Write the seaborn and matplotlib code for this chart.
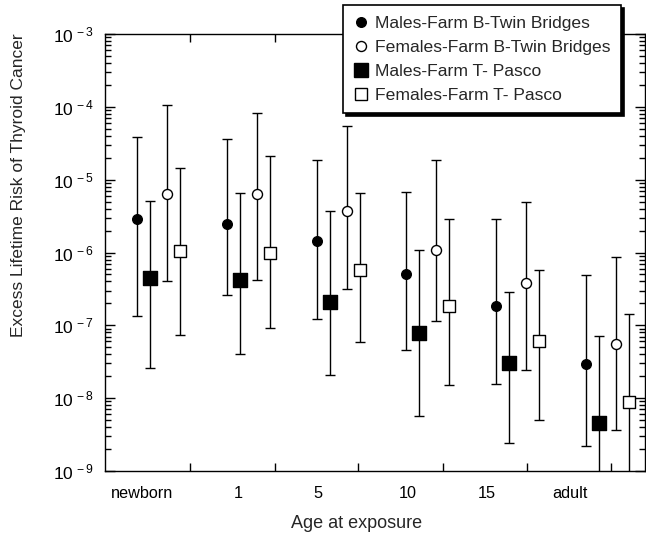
import numpy as np
import pandas as pd
import matplotlib
matplotlib.use("Agg")
import matplotlib.pyplot as plt
from matplotlib.lines import Line2D
from matplotlib.ticker import LogLocator, FixedLocator, NullFormatter, FixedFormatter
import seaborn as sns

# ---------------- data ----------------
groups = ["newborn", "1", "5", "10", "15", "adult"]

series_names = ["Males-Farm B-Twin Bridges", "Females-Farm B-Twin Bridges",
                "Males-Farm T- Pasco", "Females-Farm T- Pasco"]

male_b = [2.9e-6, 2.5e-6, 1.45e-6, 5.0e-7, 1.85e-7, 2.9e-8]
male_b_hi = [3.8e-5, 3.6e-5, 1.86e-5, 6.7e-6, 2.9e-6, 4.9e-7]
male_b_lo = [1.34e-7, 2.65e-7, 1.24e-7, 4.6e-8, 1.56e-8, 2.2e-9]

fem_b = [6.3e-6, 6.3e-6, 3.7e-6, 1.08e-6, 3.84e-7, 5.5e-8]
fem_b_hi = [1.06e-4, 8.1e-5, 5.45e-5, 1.86e-5, 5.0e-6, 8.7e-7]
fem_b_lo = [4.05e-7, 4.2e-7, 3.2e-7, 1.14e-7, 2.4e-8, 3.7e-9]

male_t = [4.4e-7, 4.2e-7, 2.06e-7, 7.9e-8, 3.0e-8, 4.6e-9]
male_t_hi = [5.1e-6, 6.5e-6, 3.7e-6, 1.08e-6, 2.9e-7, 7.1e-8]
male_t_lo = [2.6e-8, 4.0e-8, 2.1e-8, 5.7e-9, 2.4e-9, 1e-10]

fem_t = [1.05e-6, 9.7e-7, 5.7e-7, 1.85e-7, 6.1e-8, 8.9e-9]
fem_t_hi = [1.43e-5, 2.1e-5, 6.6e-6, 2.85e-6, 5.7e-7, 1.43e-7]
fem_t_lo = [7.3e-8, 9.2e-8, 5.9e-8, 1.5e-8, 5.0e-9, 1e-10]

y_ticks = [1e-9, 1e-8, 1e-7, 1e-6, 1e-5, 1e-4, 1e-3]
y_ticklabels = [r"$10^{\,-9}$", r"$10^{\,-8}$", r"$10^{\,-7}$", r"$10^{\,-6}$",
                r"$10^{\,-5}$", r"$10^{\,-4}$", r"$10^{\,-3}$"]

# ---------------- style ----------------
sns.set_style("ticks")
plt.rcParams["font.family"] = ["Liberation Sans", "DejaVu Sans"]
plt.rcParams["mathtext.fontset"] = "custom"
plt.rcParams["mathtext.rm"] = "Liberation Sans"
plt.rcParams["mathtext.it"] = "Liberation Sans"
plt.rcParams["mathtext.default"] = "regular"

fig = plt.figure(figsize=(6.46, 5.46), dpi=100)
ax = fig.add_axes([105 / 646, 1 - 471 / 546, 540 / 646, 437 / 546])

offsets = [-0.24, 0.095, -0.095, 0.24]   # male B, female B, male T, female T
vals = [male_b, fem_b, male_t, fem_t]
his = [male_b_hi, fem_b_hi, male_t_hi, fem_t_hi]
los = [male_b_lo, fem_b_lo, male_t_lo, fem_t_lo]
markers = ["o", "o", "s", "s"]
faces = ["black", "white", "black", "white"]
sizes = [48, 52, 100, 72]

rows = []
for name, v, hi, lo, off in zip(series_names, vals, his, los, offsets):
    for i, g in enumerate(groups):
        rows.append(dict(series=name, group=g, x=i + off, y=v[i], hi=hi[i], lo=lo[i]))
df = pd.DataFrame(rows)

for name, mk, fc, sz in zip(series_names, markers, faces, sizes):
    d = df[df.series == name]
    ax.errorbar(d.x, d.y, yerr=[d.y - d.lo, d.hi - d.y], fmt="none",
                ecolor="black", elinewidth=1.0, capsize=3.8, capthick=1.0, zorder=2)
    sns.scatterplot(data=d, x="x", y="y", marker=mk, s=sz, color=fc,
                    edgecolor="black", linewidth=1.0, ax=ax, zorder=3, legend=False)

ax.set_yscale("log")
ax.set_ylim(1e-9, 1e-3)
ax.set_xlim(-0.596, 5.418)

ax.yaxis.set_major_locator(FixedLocator(y_ticks))
ax.yaxis.set_major_formatter(FixedFormatter(y_ticklabels))
ax.yaxis.set_minor_locator(LogLocator(base=10, subs=np.arange(2, 10)))
ax.yaxis.set_minor_formatter(NullFormatter())

label_pos = [-0.18, 0.885, 1.776, 2.778, 3.658, 4.582]
tick_marks = [0.351, 1.297, 2.221, 3.168, 4.103, 5.04]
ax.xaxis.set_major_locator(FixedLocator(label_pos))
ax.xaxis.set_major_formatter(FixedFormatter(groups))
ax.xaxis.set_minor_locator(FixedLocator(tick_marks))

ax.tick_params(axis="both", which="both", direction="in", top=True, right=True,
               colors="black", width=1.0)
ax.tick_params(axis="x", which="major", length=0, labelsize=11.7, pad=11)
ax.tick_params(axis="x", which="minor", length=6)
ax.tick_params(axis="y", which="major", length=7, labelsize=12.5, pad=8)
ax.tick_params(axis="y", which="minor", length=4.5)

for sp in ax.spines.values():
    sp.set_linewidth(1.0)
    sp.set_color("black")

ax.set_xlabel("")
ax.set_ylabel("")
fig.text(19 / 646, 1 - 185 / 546, "Excess Lifetime Risk of Thyroid Cancer",
         rotation=90, ha="center", va="center", fontsize=12.5)
fig.text(357 / 646, 1 - 523 / 546, "Age at exposure", ha="center", va="center",
         fontsize=13)

handles = [Line2D([], [], linestyle="none", marker=mk, markersize=np.sqrt(sz),
                  markerfacecolor=fc, markeredgecolor="black", markeredgewidth=1.0)
           for mk, fc, sz in zip(markers, faces, sizes)]
leg = fig.legend(handles, series_names, loc="upper left",
                 bbox_to_anchor=(343 / 646, 1 - 5 / 546), borderaxespad=0,
                 fancybox=False, edgecolor="black", framealpha=1,
                 shadow={"color": "black", "alpha": 1}, fontsize=12.6,
                 handlelength=0.9, handletextpad=0.35, labelspacing=0.5,
                 borderpad=0.6)
leg.get_frame().set_linewidth(1.2)

fig.savefig("out.png", dpi=100)
